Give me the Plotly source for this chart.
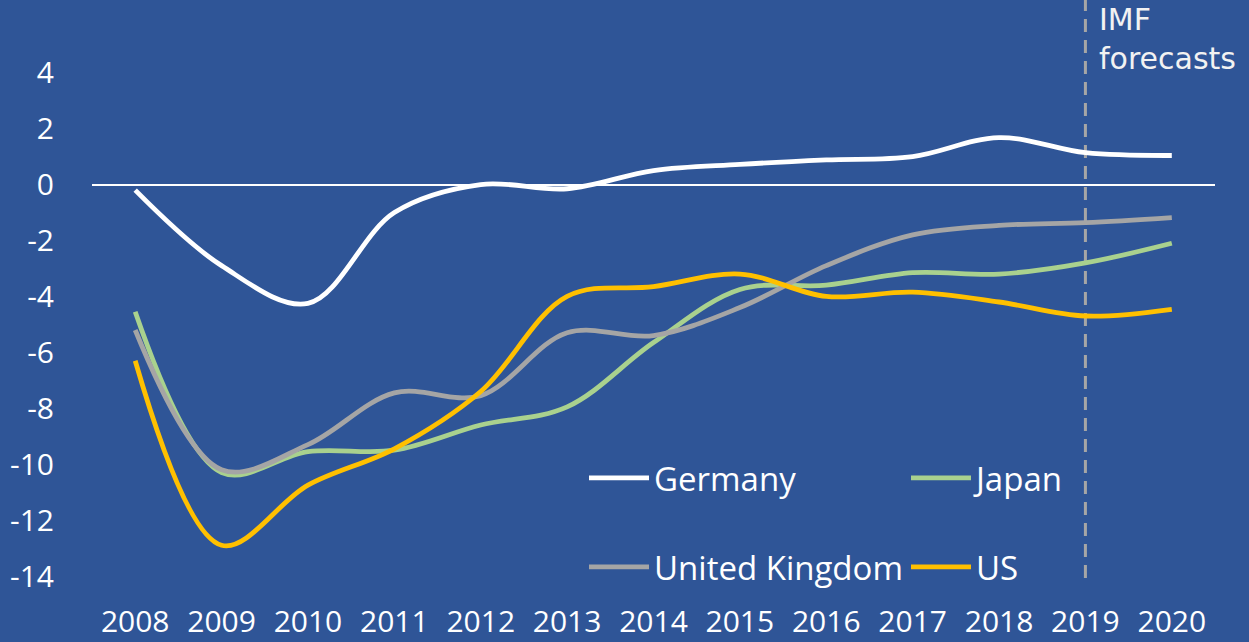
import plotly.graph_objects as go

years = list(range(2008, 2021))
germany = [-0.2, -2.9, -4.25, -1.0, 0.0, -0.15, 0.5, 0.72, 0.88, 1.0, 1.68, 1.14, 1.04]
japan = [-4.55, -10.3, -9.55, -9.5, -8.6, -7.95, -5.65, -3.75, -3.6, -3.15, -3.2, -2.8, -2.1]
uk = [-5.2, -10.2, -9.3, -7.45, -7.55, -5.3, -5.4, -4.4, -2.9, -1.8, -1.46, -1.36, -1.18]
us = [-6.3, -12.9, -10.75, -9.45, -7.4, -4.0, -3.65, -3.2, -4.0, -3.85, -4.2, -4.7, -4.46]

series_names = ["Germany", "Japan", "United Kingdom", "US"]
series_vals = [germany, japan, uk, us]
colors = ["#FFFFFF", "#A9D18E", "#A5A5A5", "#FFC000"]
legend_ids = ["legend", "legend2", "legend3", "legend4"]

y_ticks = [4, 2, 0, -2, -4, -6, -8, -10, -12, -14]
forecast_start = 2019

BG = "#2F5597"
FONT = "Open Sans, Lato, sans-serif"
NOTE_FONT = "DejaVu Sans, Open Sans, sans-serif"

# plot area in pixels
PL, PR, PT, PB = 92, 1215, 0, 578
PW, PH = PR - PL, PB - PT

def px(xpix):
    return (xpix - PL) / PW

def py(ypix):
    return (PB - ypix) / PH

fig = go.Figure()
for name, vals, col, lg in zip(series_names, series_vals, colors, legend_ids):
    fig.add_trace(go.Scatter(
        x=years, y=vals, name=name, mode="lines",
        line=dict(color=col, width=4.8, shape="spline", smoothing=1.0),
        legend=lg, showlegend=True,
    ))

fig.add_shape(type="line", xref="x", yref="paper", x0=forecast_start, x1=forecast_start,
              y0=0, y1=1, line=dict(color="#A6A6A6", width=3, dash="13px,8px"), layer="below")

fig.add_annotation(xref="paper", yref="paper", x=px(1097), y=1.0,
                   xanchor="left", yanchor="top", align="left", showarrow=False,
                   text="IMF<br>forecasts",
                   font=dict(family=NOTE_FONT, size=30, color="#F2F2F2"))

legend_common = dict(bgcolor="rgba(0,0,0,0)", borderwidth=0,
                     font=dict(family=FONT, size=33, color="#FFFFFF"),
                     xref="paper", yref="paper", xanchor="left", yanchor="middle",
                     itemwidth=60)
fig.update_layout(
    legend=dict(x=px(584), y=py(478), **legend_common),
    legend2=dict(x=px(906), y=py(478), **legend_common),
    legend3=dict(x=px(584), y=py(567), **legend_common),
    legend4=dict(x=px(906), y=py(567), **legend_common),
)

fig.update_layout(
    width=1249, height=642,
    paper_bgcolor=BG, plot_bgcolor=BG,
    margin=dict(l=PL, r=1249 - PR, t=PT, b=642 - PB, autoexpand=False),
    font=dict(family=FONT, color="#FFFFFF"),
    xaxis=dict(range=[2007.5, 2020.5], tickvals=years, ticktext=[str(y) for y in years],
               showgrid=False, zeroline=False, showline=False, ticks="", automargin=False,
               tickfont=dict(family=FONT, size=30, color="#FFFFFF"), ticklabelstandoff=23),
    yaxis=dict(range=[-14.07, 6.6], tickvals=y_ticks, ticktext=[str(v) for v in y_ticks],
               showgrid=False, zeroline=True, zerolinecolor="#FFFFFF", zerolinewidth=1.5,
               showline=False, ticks="", automargin=False,
               tickfont=dict(family=FONT, size=30, color="#FFFFFF"), ticklabelstandoff=37),
)

fig.write_html("out.html")
